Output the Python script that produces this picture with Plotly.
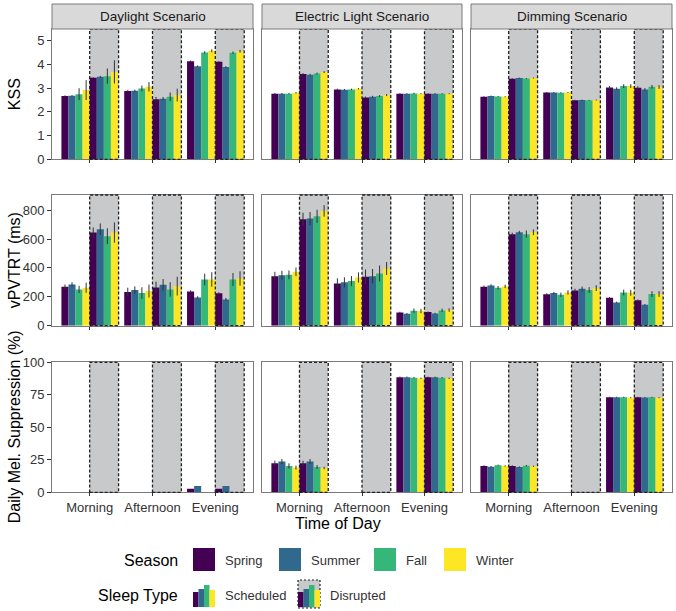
import plotly.graph_objects as go

W, H = 676, 611
FONT = "Liberation Sans, Arial, sans-serif"

scenarios = ["Daylight Scenario", "Electric Light Scenario", "Dimming Scenario"]
times = ["Morning", "Afternoon", "Evening"]
seasons = ["Spring", "Summer", "Fall", "Winter"]
sleep_types = ["Scheduled", "Disrupted"]
season_colors = ["#440154", "#31688E", "#35B779", "#FDE725"]
row_titles = ["KSS", "vPVTRT (ms)", "Daily Mel. Suppression (%)"]

# values: one row per season (Spring, Summer, Fall, Winter), columns = Morning, Afternoon, Evening
kss_day_sch = [[2.67, 2.88, 4.14], [2.68, 2.89, 3.93], [2.75, 2.99, 4.51], [2.92, 3.06, 4.58]]
kss_day_sch_err = [[0.03, 0.05, 0.03], [0.03, 0.05, 0.03], [0.25, 0.12, 0.05], [0.42, 0.20, 0.06]]
kss_day_dis = [[3.44, 2.53, 4.12], [3.48, 2.56, 3.90], [3.51, 2.64, 4.50], [3.69, 2.71, 4.56]]
kss_day_dis_err = [[0.03, 0.10, 0.03], [0.04, 0.07, 0.03], [0.32, 0.18, 0.05], [0.49, 0.27, 0.06]]
kss_ele_sch = [[2.77, 2.95, 2.77], [2.77, 2.94, 2.77], [2.77, 2.95, 2.78], [2.81, 2.98, 2.77]]
kss_ele_sch_err = [[0.03, 0.03, 0.02], [0.03, 0.03, 0.02], [0.03, 0.03, 0.03], [0.03, 0.03, 0.02]]
kss_ele_dis = [[3.60, 2.61, 2.77], [3.57, 2.64, 2.77], [3.62, 2.67, 2.77], [3.68, 2.71, 2.77]]
kss_ele_dis_err = [[0.04, 0.04, 0.02], [0.04, 0.04, 0.02], [0.04, 0.04, 0.02], [0.04, 0.04, 0.02]]
kss_dim_sch = [[2.64, 2.82, 3.03], [2.67, 2.82, 2.98], [2.65, 2.81, 3.09], [2.64, 2.82, 3.09]]
kss_dim_sch_err = [[0.02, 0.02, 0.06], [0.02, 0.02, 0.06], [0.02, 0.02, 0.08], [0.02, 0.02, 0.08]]
kss_dim_dis = [[3.40, 2.49, 3.02], [3.43, 2.50, 2.95], [3.41, 2.49, 3.06], [3.43, 2.50, 3.05]]
kss_dim_dis_err = [[0.02, 0.02, 0.06], [0.02, 0.02, 0.06], [0.02, 0.02, 0.08], [0.02, 0.02, 0.08]]

pvt_day_sch = [[270, 233, 237], [286, 247, 196], [251, 226, 320], [263, 240, 320]]
pvt_day_sch_err = [[15, 30, 8], [15, 25, 8], [25, 40, 40], [35, 45, 50]]
pvt_day_dis = [[645, 265, 224], [668, 283, 182], [620, 251, 320], [645, 274, 327]]
pvt_day_dis_err = [[35, 40, 8], [40, 40, 10], [55, 50, 45], [70, 65, 50]]
pvt_ele_sch = [[343, 293, 92], [350, 300, 83], [352, 309, 104], [373, 334, 101]]
pvt_ele_sch_err = [[30, 35, 5], [30, 35, 5], [30, 35, 15], [30, 35, 15]]
pvt_ele_dis = [[737, 339, 94], [742, 343, 85], [758, 362, 106], [795, 396, 108]]
pvt_ele_dis_err = [[45, 50, 5], [45, 50, 5], [45, 55, 12], [40, 45, 12]]
pvt_dim_sch = [[270, 217, 194], [279, 226, 161], [263, 214, 230], [272, 230, 228]]
pvt_dim_sch_err = [[8, 8, 5], [8, 8, 5], [12, 15, 20], [12, 15, 20]]
pvt_dim_dis = [[634, 244, 177], [647, 256, 145], [634, 247, 219], [647, 260, 219]]
pvt_dim_dis_err = [[10, 12, 5], [10, 15, 5], [25, 20, 20], [20, 20, 20]]

mel_day_sch = [[0, 0, 2.8], [0, 0, 4.9], [0, 0, 0], [0, 0, 0]]
mel_day_sch_err = [[0, 0, 0], [0, 0, 0], [0, 0, 0], [0, 0, 0]]
mel_day_dis = [[0, 0, 2.8], [0, 0, 4.9], [0, 0, 0], [0, 0, 0]]
mel_day_dis_err = [[0, 0, 0], [0, 0, 0], [0, 0, 0], [0, 0, 0]]
mel_ele_sch = [[22.3, 0, 88.5], [23.6, 0, 88.5], [20.3, 0, 88.2], [19.0, 0, 87.7]]
mel_ele_sch_err = [[2.0, 0, 0.5], [2.0, 0, 0.5], [2.0, 0, 0.5], [1.5, 0, 0.5]]
mel_ele_dis = [[22.3, 0, 88.5], [23.6, 0, 88.5], [19.5, 0, 88.2], [18.7, 0, 87.7]]
mel_ele_dis_err = [[2.0, 0, 0.5], [2.0, 0, 0.5], [1.5, 0, 0.5], [1.0, 0, 0.5]]
mel_dim_sch = [[20.3, 0, 73.1], [19.7, 0, 73.1], [20.8, 0, 73.1], [20.3, 0, 72.8]]
mel_dim_sch_err = [[0.5, 0, 0.4], [0.5, 0, 0.4], [0.5, 0, 0.4], [0.5, 0, 0.4]]
mel_dim_dis = [[20.3, 0, 73.1], [19.5, 0, 73.0], [20.5, 0, 73.1], [20.0, 0, 72.8]]
mel_dim_dis_err = [[0.5, 0, 0.4], [0.5, 0, 0.4], [0.5, 0, 0.4], [0.5, 0, 0.4]]

panels = [
    [(kss_day_sch, kss_day_sch_err, kss_day_dis, kss_day_dis_err),
     (kss_ele_sch, kss_ele_sch_err, kss_ele_dis, kss_ele_dis_err),
     (kss_dim_sch, kss_dim_sch_err, kss_dim_dis, kss_dim_dis_err)],
    [(pvt_day_sch, pvt_day_sch_err, pvt_day_dis, pvt_day_dis_err),
     (pvt_ele_sch, pvt_ele_sch_err, pvt_ele_dis, pvt_ele_dis_err),
     (pvt_dim_sch, pvt_dim_sch_err, pvt_dim_dis, pvt_dim_dis_err)],
    [(mel_day_sch, mel_day_sch_err, mel_day_dis, mel_day_dis_err),
     (mel_ele_sch, mel_ele_sch_err, mel_ele_dis, mel_ele_dis_err),
     (mel_dim_sch, mel_dim_sch_err, mel_dim_dis, mel_dim_dis_err)],
]
y_ranges = [[0, 5.5], [0, 905], [0, 100]]
y_ticks = [[0, 1, 2, 3, 4, 5], [0, 200, 400, 600, 800], [0, 25, 50, 75, 100]]

# layout in pixels
col_px = [(52, 253), (262, 462), (471, 672)]
row_px = [(29, 159.3), (195, 325.7), (362.3, 492.3)]
strip_px = (4, 29)


def px_x(x):
    return x / W


def px_y(y):
    return 1 - y / H


fig = go.Figure()
layout_axes = {}
shapes = []
annotations = []
BORDER = "#7a7a7a"
TICKC = "#333333"
RECT_FILL = "#c8c9cb"


def ann(x, y, text, size, color="#000000", xanchor="center", angle=0):
    annotations.append(dict(xref="paper", yref="paper", x=px_x(x), y=px_y(y),
                            xanchor=xanchor, yanchor="middle", text=text,
                            textangle=angle, showarrow=False,
                            font=dict(family=FONT, size=size, color=color)))


for r in range(3):
    for c in range(3):
        k = r * 3 + c + 1
        xs = "x" if k == 1 else f"x{k}"
        ys = "y" if k == 1 else f"y{k}"
        xname = "xaxis" if k == 1 else f"xaxis{k}"
        yname = "yaxis" if k == 1 else f"yaxis{k}"
        sch, sch_e, dis, dis_e = panels[r][c]
        for sleep_i, (vals, errs) in enumerate([(sch, sch_e), (dis, dis_e)]):
            for s_i, season in enumerate(seasons):
                fig.add_trace(go.Bar(
                    x=times, y=vals[s_i], xaxis=xs, yaxis=ys,
                    name=f"{season} {sleep_types[sleep_i]}",
                    marker=dict(color=season_colors[s_i], line=dict(width=0)),
                    error_y=dict(type="data", array=errs[s_i], color="#333333",
                                 thickness=1, width=0),
                    showlegend=False,
                ))
        layout_axes[xname] = dict(
            domain=[px_x(col_px[c][0]), px_x(col_px[c][1])], anchor=ys,
            type="category", categoryorder="array", categoryarray=times,
            range=[-0.6, 2.6], showgrid=False, zeroline=False, automargin=False,
            showline=True, mirror=True, linecolor=BORDER, linewidth=1,
            ticks="outside", ticklen=3, tickcolor=TICKC,
            showticklabels=(r == 2),
            tickfont=dict(family=FONT, size=13, color="#333333"),
        )
        layout_axes[yname] = dict(
            domain=[px_y(row_px[r][1]), px_y(row_px[r][0])], anchor=xs,
            range=y_ranges[r], tickvals=y_ticks[r], showgrid=False, zeroline=False,
            automargin=False,
            showline=True, mirror=True, linecolor=BORDER, linewidth=1,
            ticks="outside" if c == 0 else "", ticklen=4, tickcolor=TICKC,
            showticklabels=(c == 0),
            tickfont=dict(family=FONT, size=13, color="#333333"),
        )
        # disrupted background rectangles (gray fill below, dashed border above)
        for i in range(len(times)):
            shapes.append(dict(type="rect", xref=xs, yref=f"{ys} domain",
                               x0=i, x1=i + 0.46, y0=0, y1=1,
                               fillcolor=RECT_FILL, line=dict(width=0), layer="below"))
            shapes.append(dict(type="rect", xref=xs, yref=f"{ys} domain",
                               x0=i, x1=i + 0.46, y0=0, y1=1,
                               fillcolor="rgba(0,0,0,0)",
                               line=dict(color="#222222", width=1.3, dash="3px,2px"),
                               layer="above"))

# strips
for c in range(3):
    shapes.append(dict(type="rect", xref="paper", yref="paper",
                       x0=px_x(col_px[c][0]), x1=px_x(col_px[c][1]),
                       y0=px_y(strip_px[1]), y1=px_y(strip_px[0]),
                       fillcolor="#d9d9d9", line=dict(color=BORDER, width=1)))
    ann((col_px[c][0] + col_px[c][1]) / 2, (strip_px[0] + strip_px[1]) / 2,
        scenarios[c], 13.5, "#1a1a1a")

# row titles
for r in range(3):
    ann(14, (row_px[r][0] + row_px[r][1]) / 2, row_titles[r], 16, angle=-90)

ann(338, 523, "Time of Day", 16)

# legend: Season
ann(180, 560, "Season", 16, xanchor="right")
sq_x = [193, 279, 374, 444]
for s_i, season in enumerate(seasons):
    shapes.append(dict(type="rect", xref="paper", yref="paper",
                       x0=px_x(sq_x[s_i]), x1=px_x(sq_x[s_i] + 22),
                       y0=px_y(571), y1=px_y(548),
                       fillcolor=season_colors[s_i], line=dict(width=0)))
    ann(sq_x[s_i] + 30, 560, season, 13, "#333333", xanchor="left")

# legend: Sleep Type
ann(180, 595, "Sleep Type", 16, xanchor="right")
icon_x = [193, 298]
icon_bar_tops = [592, 589, 585, 590]  # glyph styling only
for t_i, st in enumerate(sleep_types):
    x0 = icon_x[t_i]
    if t_i == 1:
        shapes.append(dict(type="rect", xref="paper", yref="paper",
                           x0=px_x(x0), x1=px_x(x0 + 22), y0=px_y(608), y1=px_y(580),
                           fillcolor=RECT_FILL,
                           line=dict(color="#222222", width=1.2, dash="2px,2px")))
    for s_i in range(4):
        shapes.append(dict(type="rect", xref="paper", yref="paper",
                           x0=px_x(x0 + s_i * 5.5), x1=px_x(x0 + (s_i + 1) * 5.5),
                           y0=px_y(607), y1=px_y(icon_bar_tops[s_i]),
                           fillcolor=season_colors[s_i], line=dict(width=0)))
    ann(x0 + 30, 595, st, 13, "#333333", xanchor="left")

fig.update_layout(
    width=W, height=H, margin=dict(l=0, r=0, t=0, b=0, pad=0, autoexpand=False),
    paper_bgcolor="white", plot_bgcolor="white",
    barmode="group", bargap=0.1, bargroupgap=0,
    showlegend=False, shapes=shapes, annotations=annotations,
    font=dict(family=FONT),
    **layout_axes,
)

fig.write_html("out.html")
